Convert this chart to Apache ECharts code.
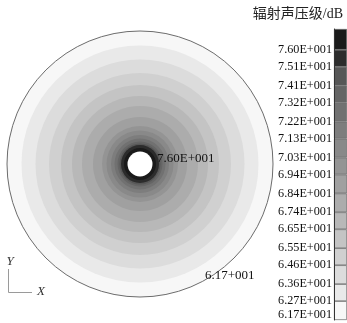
<!DOCTYPE html>
<html>
<head>
<meta charset="utf-8">
<script src="https://cdn.jsdelivr.net/npm/echarts@6/dist/echarts.min.js"></script>
<style>
  html, body { margin: 0; padding: 0; background: #fff; }
  #chart { width: 347px; height: 323px; }
</style>
</head>
<body>
<div id="chart"></div>
<script>
// Contour levels of the radiated sound pressure (dB), loudest first
const levels = [76.0, 75.1, 74.1, 73.2, 72.2, 71.3, 70.3, 69.4, 68.4, 67.4, 66.5, 65.5, 64.6, 63.6, 62.7, 61.7];
const levelLabels = ['7.60E+001', '7.51E+001', '7.41E+001', '7.32E+001', '7.22E+001', '7.13E+001', '7.03E+001',
  '6.94E+001', '6.84E+001', '6.74E+001', '6.65E+001', '6.55E+001', '6.46E+001', '6.36E+001', '6.27E+001', '6.17E+001'];
// Band fill: band 0 is above levels[0], band k lies between levels[k] and levels[k-1]
const bandColors = ['#1a1a1a', '#2c2c2c', '#575757', '#656565', '#717171', '#7d7d7d', '#898989', '#949494',
  '#a0a0a0', '#acacac', '#b8b8b8', '#c4c4c4', '#d0d0d0', '#dcdcdc', '#e9e9e9', '#f7f7f7'];
// Outer radius (mm) of each band on the disc, same order as bandColors
const holeRadius = 12.5;
const bandOuterRadius = [16, 19, 20.5, 22.5, 25.5, 29, 33.5, 38, 47, 58, 68, 79, 91, 104.5, 118.5, 133];
// Extremes written on the field
const maxNote = '7.60E+001';
const minNote = '6.17+001';
const scaleTitle = '辐射声压级/dB';
const scaleTop = 77.1;

const serif = '"Liberation Serif", "Times New Roman", serif';

// Disc: each band is a filled circle up to its outer radius, painted outermost first,
// so inner bands cover the centre of the outer ones; the hole is painted last
const discSeries = [];
for (let k = bandOuterRadius.length - 1; k >= 0; k--) {
  discSeries.push({
    type: 'bar', coordinateSystem: 'polar', barCategoryGap: '0%', barGap: '-100%', silent: true,
    data: [bandOuterRadius[k]], itemStyle: { color: bandColors[k] }
  });
}
discSeries.push({
  type: 'bar', coordinateSystem: 'polar', barCategoryGap: '0%', barGap: '-100%', silent: true,
  data: [holeRadius], itemStyle: { color: '#ffffff' }
});

// Colour scale: stacked segments from the lowest level upward
const scaleSeries = [{
  type: 'bar', xAxisIndex: 0, yAxisIndex: 0, stack: 'scale', barWidth: '100%', silent: true,
  data: [levels[levels.length - 1]], itemStyle: { color: 'rgba(0,0,0,0)' }
}];
for (let k = levels.length - 1; k >= 0; k--) {
  const upper = k === 0 ? scaleTop : levels[k - 1];
  scaleSeries.push({
    type: 'bar', xAxisIndex: 0, yAxisIndex: 0, stack: 'scale', barWidth: '100%', silent: true,
    data: [+(upper - levels[k]).toFixed(3)],
    itemStyle: { color: bandColors[k], borderColor: '#666', borderWidth: 0.7 }
  });
}

const chart = echarts.init(document.getElementById('chart'), null, { renderer: 'canvas' });
chart.setOption({
  animation: false,
  backgroundColor: '#fff',
  polar: { center: [140, 164], radius: 133 },
  angleAxis: {
    type: 'category', data: [''], startAngle: 90, z: 10,
    axisLine: { show: true, lineStyle: { color: '#6c6c6c', width: 1 } },
    axisTick: { show: false }, axisLabel: { show: false }, splitLine: { show: false }
  },
  radiusAxis: {
    type: 'value', min: 0, max: bandOuterRadius[bandOuterRadius.length - 1],
    axisLine: { show: false }, axisTick: { show: false }, axisLabel: { show: false }, splitLine: { show: false }
  },
  grid: { left: 334, top: 29, width: 16, height: 291 },
  xAxis: { type: 'category', data: [''], show: false },
  yAxis: {
    type: 'value', min: levels[levels.length - 1], max: scaleTop, position: 'left', z: 10,
    axisLine: { show: true, lineStyle: { color: '#333', width: 1 } },
    axisTick: { show: false },
    splitLine: { show: false },
    axisLabel: {
      customValues: levels,
      margin: 2,
      fontFamily: serif, fontSize: 12.2, color: '#111',
      formatter: (v) => {
        const i = levels.findIndex(l => Math.abs(l - v) < 1e-6);
        if (i < 0) return '';
        return i === levels.length - 1 ? '{low|' + levelLabels[i] + '}' : levelLabels[i];
      },
      rich: { low: { fontFamily: serif, fontSize: 12.2, color: '#111', padding: [0, 0, 10, 0] } }
    }
  },
  graphic: [
    { type: 'text', right: 4, top: 7,
      style: { text: scaleTitle, font: '14px "Liberation Serif", "Noto Sans CJK SC"', fill: '#222' } },
    { type: 'text', x: 157, y: 159, z: 20,
      style: { text: maxNote, font: '13px ' + serif, fill: '#111', verticalAlign: 'middle' } },
    { type: 'text', x: 205, y: 276, z: 20,
      style: { text: minNote, font: '13px ' + serif, fill: '#111', verticalAlign: 'middle' } },
    { type: 'polyline', shape: { points: [[8.5, 269], [8.5, 292.5], [32, 292.5]] },
      style: { stroke: '#9a9a9a', lineWidth: 1, fill: null } },
    { type: 'text', x: 10, y: 262,
      style: { text: 'Y', font: 'italic 13px ' + serif, fill: '#333', align: 'center', verticalAlign: 'middle' } },
    { type: 'text', x: 41, y: 292,
      style: { text: 'X', font: 'italic 13px ' + serif, fill: '#333', align: 'center', verticalAlign: 'middle' } }
  ],
  series: discSeries.concat(scaleSeries)
});
</script>
</body>
</html>
